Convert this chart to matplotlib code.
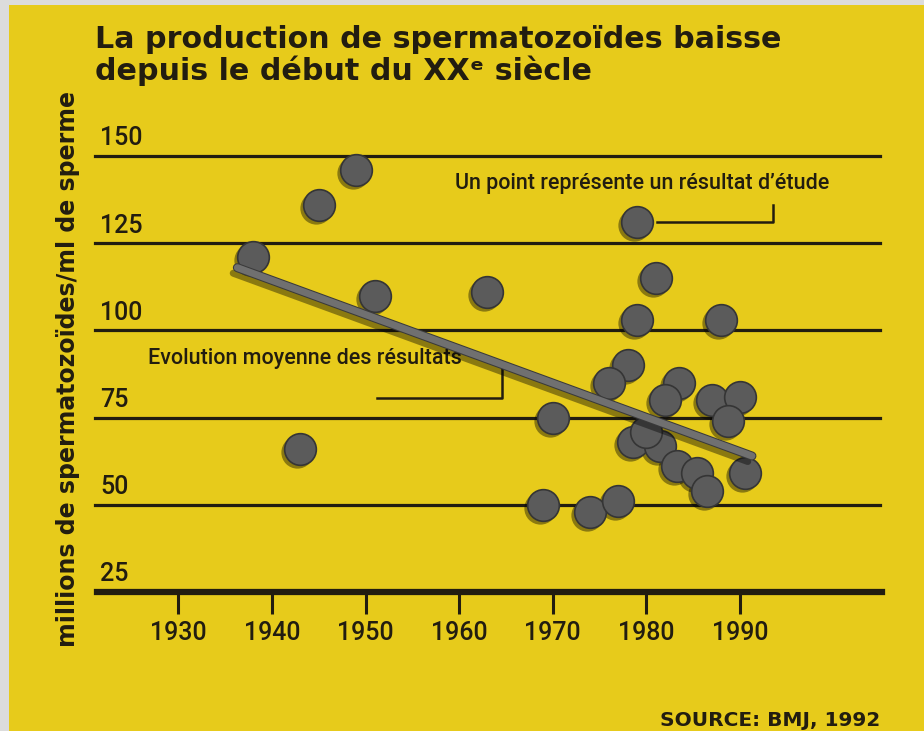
import matplotlib
matplotlib.use('Agg')
import matplotlib.pyplot as plt
import matplotlib.patheffects as pe
from matplotlib.transforms import offset_copy, blended_transform_factory
from matplotlib.patches import Rectangle

# one point = one study result (year, millions/ml)
study_years = [1938, 1945, 1949, 1951, 1943, 1963, 1979, 1981, 1979, 1988,
               1970, 1969, 1974, 1977, 1978, 1976, 1983.5, 1982, 1987, 1990,
               1988.7, 1978.6, 1981.5, 1983.3, 1985.4, 1986.5, 1990.6, 1980]
study_values = [121, 136, 146, 110, 66, 111, 131, 115, 103, 103,
                75, 50, 48, 51, 90, 85, 85, 80, 80, 81,
                74, 68, 67, 61, 59, 54, 59, 71]

# average trend line
trend_years = [1936.3, 1991.3]
trend_values = [118, 64]

grid_values = [50, 75, 100, 125, 150]
ytick_labels = ['25', '50', '75', '100', '125', '150']
decades = [1930, 1940, 1950, 1960, 1970, 1980, 1990]

title_lines = ['La production de spermatozoïdes baisse',
               'depuis le début du XX\u1d49 siècle']
ylabel = 'millions de spermatozoïdes/ml de sperme'
note_point = 'Un point représente un résultat d\u2019étude'
note_trend = 'Evolution moyenne des résultats'
source = 'SOURCE: BMJ, 1992'

yellow = '#e7cb1b'
ink = '#221d10'
narrow = ['Roboto', 'DejaVu Sans']

fig = plt.figure(figsize=(9.24, 7.31), dpi=100)
fig.patch.set_facecolor('#dcdcdc')
fig.patches.append(Rectangle((9 / 924, 0), 1, 1 - 5 / 731, transform=fig.transFigure,
                             facecolor=yellow, edgecolor='none', zorder=-5))

ax = fig.add_axes([97 / 924, 1 - 592 / 731, 785 / 924, 470.8 / 731])
ax.set_zorder(2)
ax.set_facecolor('none')
ax.set_xlim(1921.3, 2005.2)
ax.set_ylim(25, 160)
for s in ax.spines.values():
    s.set_visible(False)

# grid lines and thick baseline
for v in grid_values:
    ax.axhline(v, xmin=-0.003, xmax=0.9975, color=ink, lw=2.3, zorder=1, clip_on=False)
ax.axhline(25, color=ink, lw=4.5, zorder=1, clip_on=False)

ax.set_yticks([])
ax.set_xticks(decades)
ax.set_xticklabels([str(d) for d in decades], family=narrow, fontsize=18,
                   fontweight='medium', color=ink)
ax.tick_params(axis='x', direction='out', length=16, width=2.2, color=ink, pad=5)

# y labels sit above each grid line
trans = blended_transform_factory(ax.transAxes, ax.transData)
for lab in ytick_labels:
    ax.text(0.004, float(lab) + 1.6, lab, transform=trans, ha='left', va='bottom',
            family=narrow, fontsize=18, fontweight='medium', color=ink)

# points with soft shadow
shadow = offset_copy(ax.transData, fig=fig, x=-3, y=-3, units='dots')
ax.scatter(study_years, study_values, s=540, color='black', alpha=0.4,
           transform=shadow, zorder=2, linewidths=0)
ax.scatter(study_years, study_values, s=520, facecolor='#5b5b5b',
           edgecolor='#353535', linewidths=1.2, zorder=3)

# trend line
ax.plot(trend_years, trend_values, color='#707070', lw=5, solid_capstyle='round', zorder=4,
        path_effects=[pe.SimpleLineShadow(offset=(-3, -4), shadow_color='black', alpha=0.4),
                      pe.Stroke(linewidth=6.5, foreground='#3a3a3a'), pe.Normal()])

# annotations
p_year, p_val = study_years[6], study_values[6]
ax.plot([p_year + 2.2, p_year + 14.5, p_year + 14.5], [p_val, p_val, p_val + 4.9],
        color=ink, lw=1.8, zorder=2)
ax.text(1959.6, 142.2, note_point, family=narrow, fontsize=15.5, fontweight='medium',
        color=ink, ha='left', va='center')

ax.plot([1951.2, 1964.6, 1964.6], [80.7, 80.7, 90.8], color=ink, lw=1.8, zorder=2)
ax.text(1926.7, 92, note_trend, family=narrow, fontsize=15.5, fontweight='medium',
        color=ink, ha='left', va='center')

# titles
fig.text(95 / 924, 1 - 48 / 731, title_lines[0], fontsize=21.7, fontweight='bold',
         color=ink, va='baseline')
fig.text(95 / 924, 1 - 80 / 731, title_lines[1], fontsize=21.7, fontweight='bold',
         color=ink, va='baseline')
fig.text(68 / 924, 1 - 369 / 731, ylabel, rotation=90, fontsize=17, fontweight='bold',
         color=ink, ha='center', va='center')
fig.text(880 / 924, 1 - 711 / 731, source, fontsize=14.5, fontweight='bold',
         color=ink, ha='right', va='top')

fig.savefig('out.png', dpi=100, facecolor=fig.get_facecolor())
